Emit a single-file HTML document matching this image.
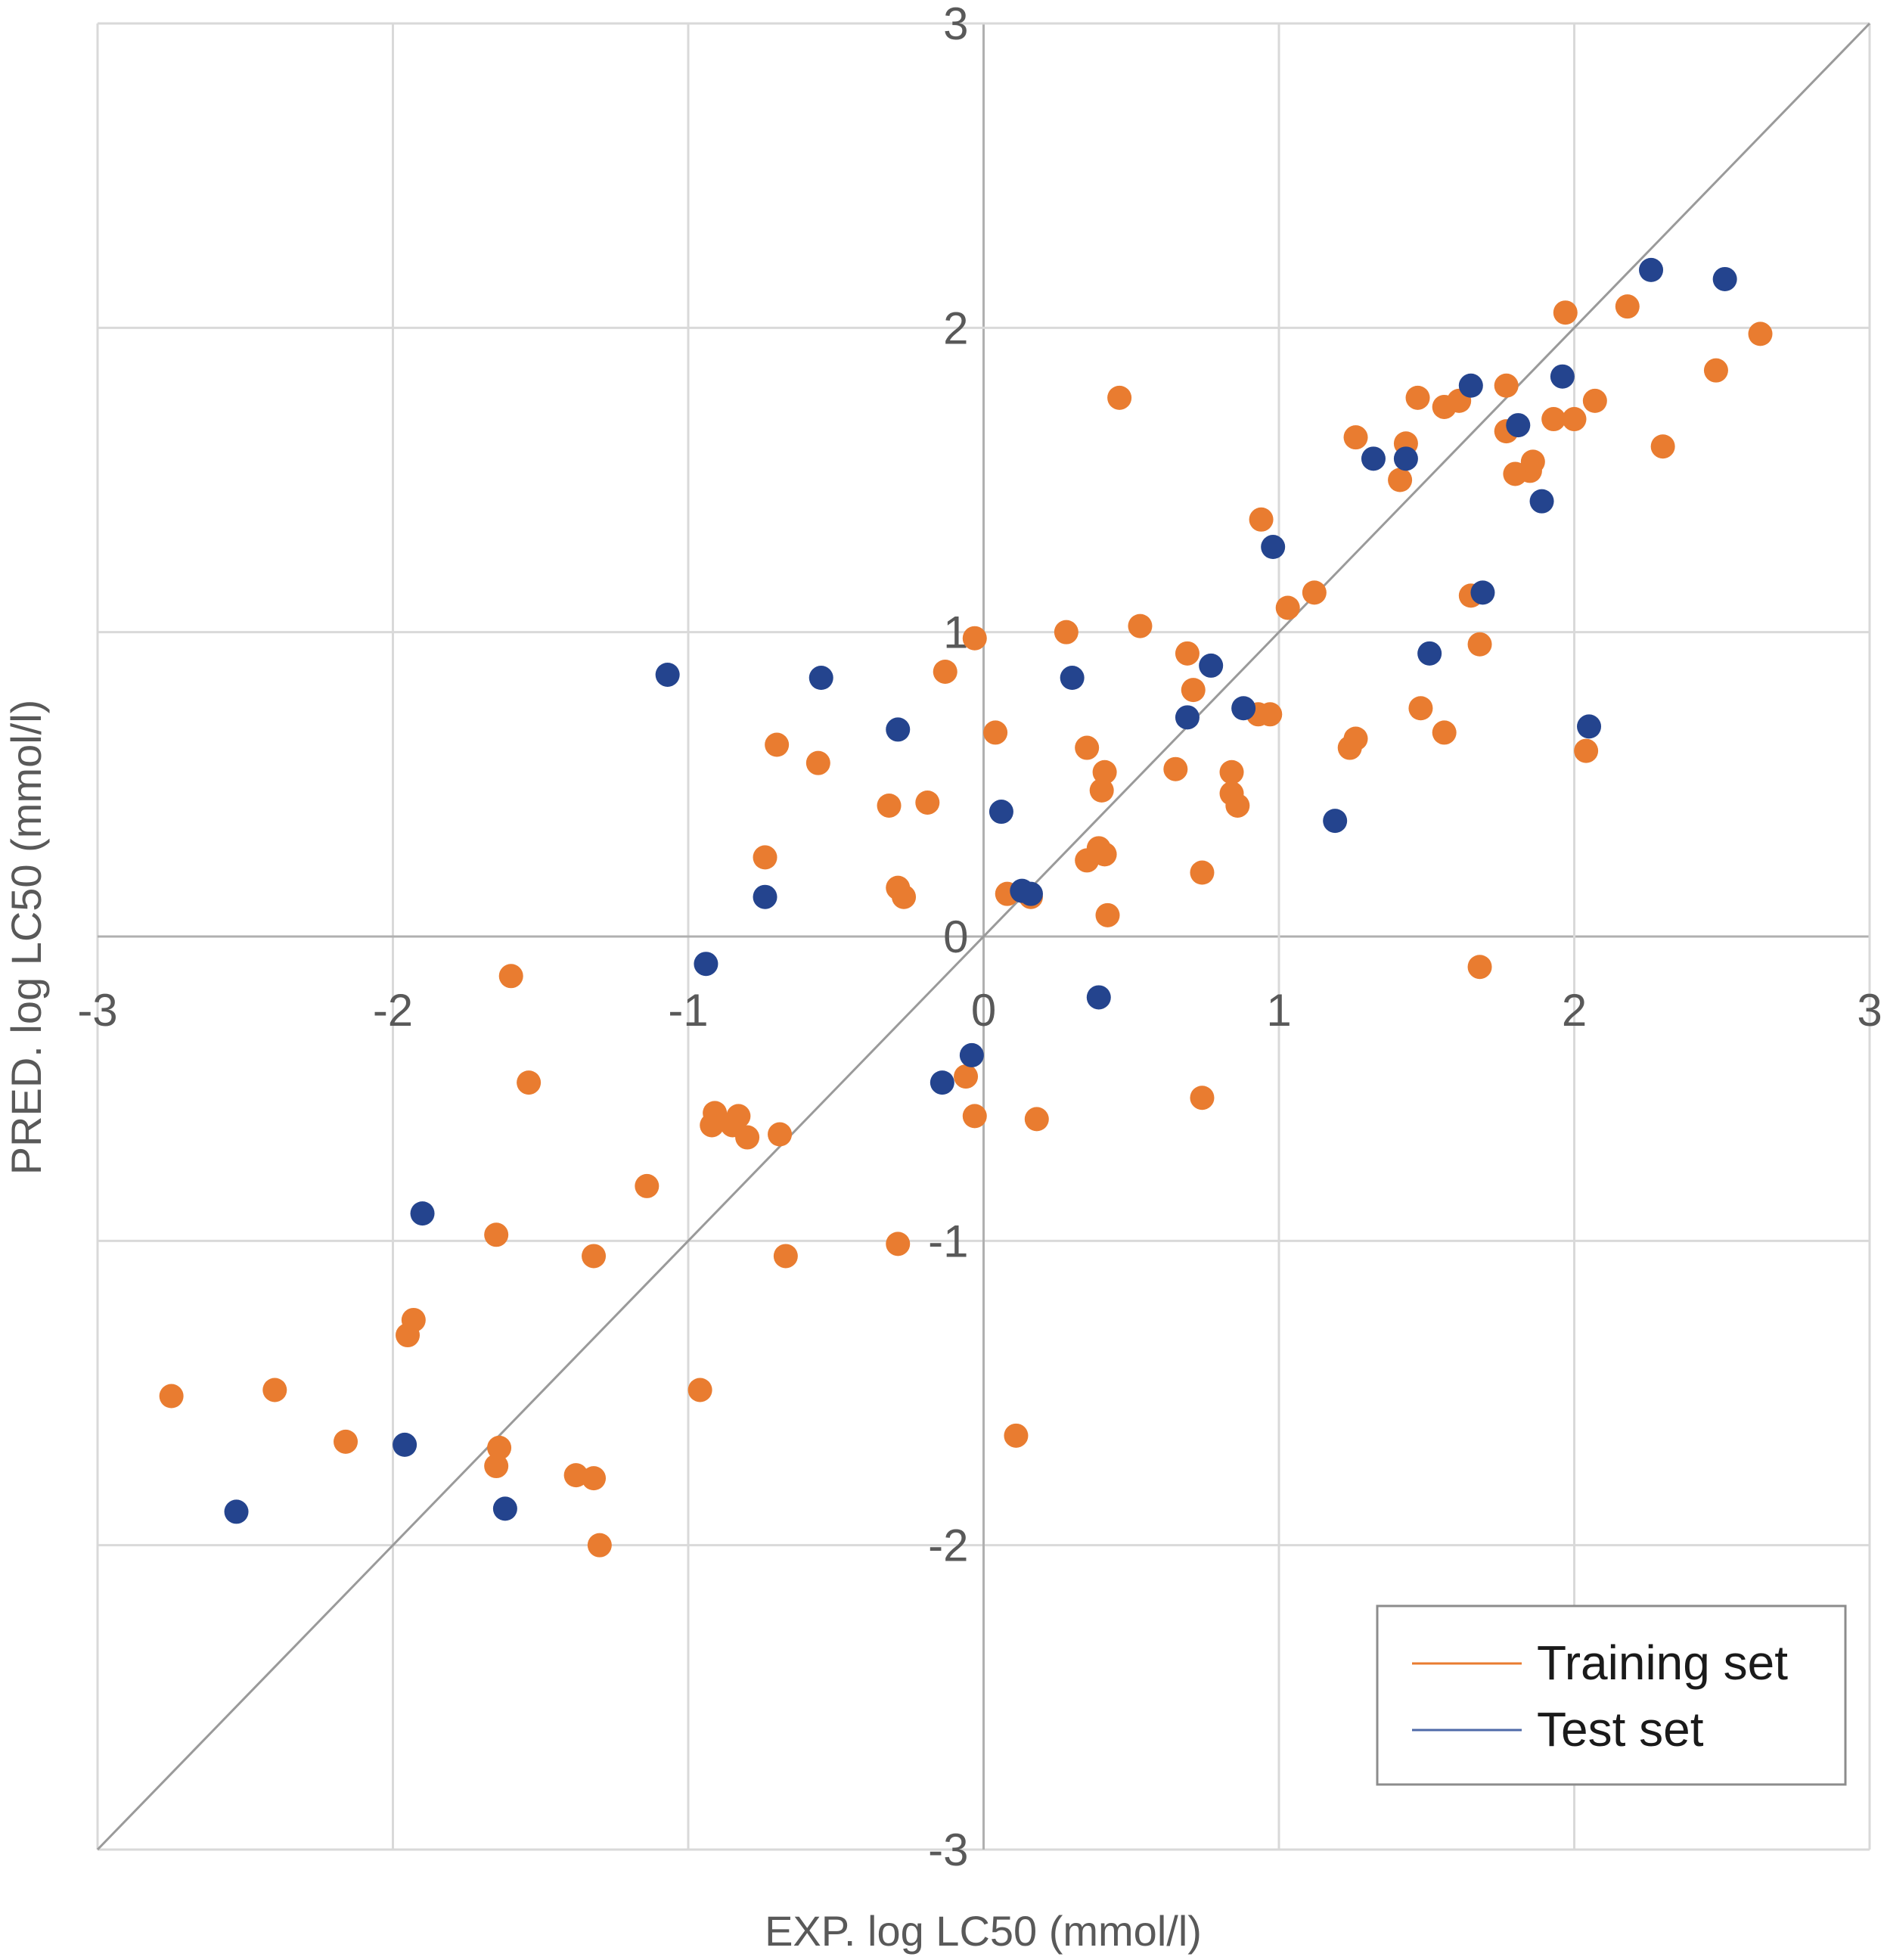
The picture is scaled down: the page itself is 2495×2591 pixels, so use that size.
<!DOCTYPE html>
<html><head><meta charset="utf-8"><style>
html,body{margin:0;padding:0;background:#fff;}
svg{display:block;font-family:"Liberation Sans",sans-serif;}
</style></head><body>
<svg id="chart" width="2495" height="2591" viewBox="0 0 2495 2591" xmlns="http://www.w3.org/2000/svg">
<rect width="2495" height="2591" fill="#fff"/>
<g id="grid"></g>
<g id="ticks"></g>
<line id="diag" stroke="#9a9a9a" stroke-width="3"/>
<g id="pts"></g>
<text x="1300" y="2572" font-size="56" fill="#595959" text-anchor="middle">EXP. log LC50 (mmol/l)</text>
<text transform="translate(54,1239) rotate(-90)" font-size="56" fill="#595959" text-anchor="middle">PRED. log LC50 (mmol/l)</text>
<g>
<rect x="1821" y="2123" width="619" height="236" fill="#fff" stroke="#8c8c8c" stroke-width="3"/>
<line x1="1867" y1="2199" x2="2012" y2="2199" stroke="#E97C30" stroke-width="3"/>
<text x="2032" y="2220" font-size="64" fill="#1a1a1a">Training set</text>
<line x1="1867" y1="2287" x2="2012" y2="2287" stroke="#4f6aa8" stroke-width="3"/>
<text x="2032" y="2308" font-size="64" fill="#1a1a1a">Test set</text>
</g>
</svg>
<script>
const ticks=[-3,-2,-1,0,1,2,3];
const tickLabels=["-3","-2","-1","0","1","2","3"];
const trainX=[-2.75,-2.40,-2.16,-1.60,-1.54,-1.65,-1.93,-1.95,-1.64,-1.65,-1.32,-1.38,-1.32,-1.30,-1.14,-0.91,-0.92,-0.83,-0.85,-0.80,-0.69,-0.67,-0.96,-0.74,-0.70,-0.56,-0.32,-0.19,-0.13,-0.03,-0.29,-0.27,-0.29,-0.06,-0.03,0.18,0.11,0.04,0.08,0.16,0.28,0.35,0.41,0.40,0.35,0.39,0.41,0.42,0.46,0.53,0.65,0.69,0.71,0.74,0.74,0.84,0.84,0.86,0.94,0.93,0.97,1.03,1.12,1.24,1.26,1.26,1.41,1.43,1.47,1.48,1.56,1.56,1.61,1.65,1.68,1.68,1.77,1.77,1.80,1.85,1.86,1.93,1.97,2.00,2.04,2.07,2.18,2.30,2.48,2.63];
const trainY=[-1.51,-1.49,-1.66,-0.13,-0.48,-0.98,-1.26,-1.31,-1.68,-1.74,-1.05,-1.77,-1.78,-2.00,-0.82,-0.58,-0.62,-0.59,-0.62,-0.66,-0.65,-1.05,-1.49,0.26,0.63,0.57,0.43,0.44,0.87,0.98,0.16,0.13,-1.01,-0.46,-0.59,-0.60,-1.64,0.67,0.14,0.13,1.00,0.62,0.54,0.48,0.25,0.29,0.27,0.07,1.77,1.02,0.55,0.93,0.81,0.21,-0.53,0.54,0.47,0.43,1.37,0.73,0.73,1.08,1.13,0.62,0.65,1.64,1.50,1.62,1.77,0.75,0.67,1.74,1.76,1.12,-0.10,0.96,1.81,1.66,1.52,1.53,1.56,1.70,2.05,1.70,0.61,1.76,2.07,1.61,1.86,1.98];
const testX=[-2.53,-1.96,-1.90,-1.62,-1.07,-0.94,-0.74,-0.55,-0.29,-0.14,-0.04,0.06,0.13,0.16,0.30,0.39,0.69,0.77,0.88,0.98,1.19,1.32,1.43,1.51,1.65,1.69,1.81,1.89,1.96,2.05,2.26,2.51];
const testY=[-1.89,-1.67,-0.91,-1.88,0.86,-0.09,0.13,0.85,0.68,-0.48,-0.39,0.41,0.15,0.14,0.85,-0.20,0.72,0.89,0.75,1.28,0.38,1.57,1.57,0.93,1.81,1.13,1.68,1.43,1.84,0.69,2.19,2.16];
const X0=129,X1=2472,Y0=2445,Y1=31;
const sx=v=>X0+(v+3)/6*(X1-X0);
const sy=v=>Y0-(v+3)/6*(Y0-Y1);
const NS="http://www.w3.org/2000/svg";
const grid=document.getElementById('grid'),tk=document.getElementById('ticks'),pts=document.getElementById('pts');
function mk(tag,at,parent){const e=document.createElementNS(NS,tag);for(const k in at)e.setAttribute(k,at[k]);parent.appendChild(e);return e;}
ticks.forEach((t,i)=>{
  const zero=t===0;
  const v=mk('line',{x1:sx(t),y1:Y1,x2:sx(t),y2:Y0,stroke:zero?'#b0b0b0':'#d9d9d9','stroke-width':3},grid);
  
  
  const h=mk('line',{x1:X0,y1:sy(t),x2:X1,y2:sy(t),stroke:zero?'#b0b0b0':'#d9d9d9','stroke-width':3},grid);
  
  
  const xl=mk('text',{x:sx(t),y:sy(0)+118,'font-size':60,fill:'#595959','text-anchor':'middle'},tk);
  xl.textContent=tickLabels[i];
  
  
  const yl=mk('text',{x:sx(0)-20,y:sy(t)+21,'font-size':60,fill:'#595959','text-anchor':'end'},tk);
  yl.textContent=tickLabels[i];
  
  
});
const d=document.getElementById('diag');
d.setAttribute('x1',sx(-3));d.setAttribute('y1',sy(-3));d.setAttribute('x2',sx(3));d.setAttribute('y2',sy(3));
trainX.forEach((x,i)=>{
  const c=mk('circle',{cx:sx(x),cy:sy(trainY[i]),r:16,fill:'#E97C30'},pts);
  
  
});
testX.forEach((x,i)=>{
  const c=mk('circle',{cx:sx(x),cy:sy(testY[i]),r:16,fill:'#24448E'},pts);
  
  
});
</script>
</body></html>
